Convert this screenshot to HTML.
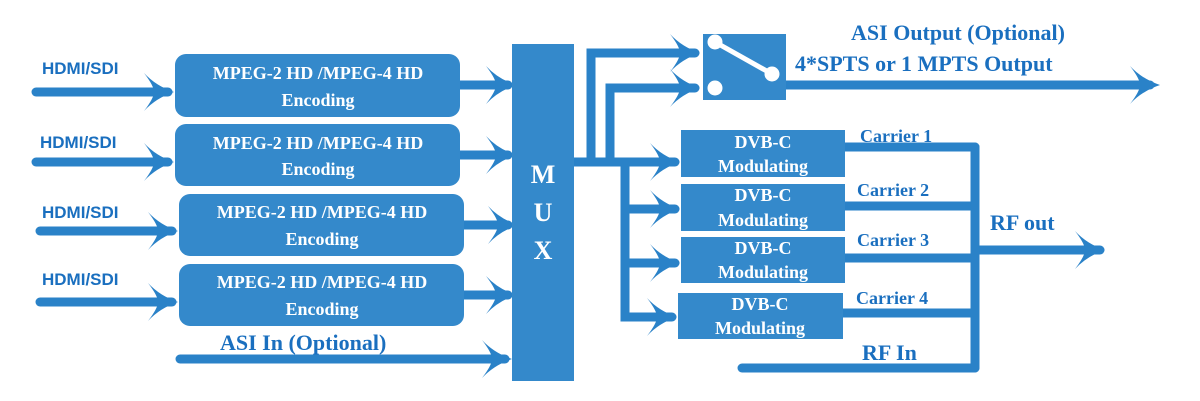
<!DOCTYPE html>
<html><head><meta charset="utf-8"><style>
html,body{margin:0;padding:0;background:#fff;}
svg{display:block;}
.w{font-family:"Liberation Serif",serif;font-weight:bold;fill:#fff;font-size:18px;text-anchor:middle;}
.b{font-family:"Liberation Serif",serif;font-weight:bold;fill:#1a6fbf;}
.s{font-family:"Liberation Sans",sans-serif;font-weight:bold;fill:#1a6fbf;font-size:17px;}
</style></head><body>
<svg width="1200" height="401" viewBox="0 0 1200 401" xmlns="http://www.w3.org/2000/svg">
<defs>
<path id="ah" d="M0,0 Q-18,-6 -30,-19 Q-20,-6 -20,0 Q-20,6 -30,19 Q-18,6 0,0Z" fill="#2a82c8"/>
</defs>
<g stroke="#2a82c8" stroke-width="9" stroke-linecap="round" fill="none">
<!-- inputs -->
<line x1="36" y1="92" x2="168" y2="92"/>
<line x1="36" y1="162" x2="168" y2="162"/>
<line x1="40" y1="231" x2="172" y2="231"/>
<line x1="40" y1="302" x2="172" y2="302"/>
<!-- encoder outputs -->
<line x1="455" y1="85" x2="508" y2="85"/>
<line x1="458" y1="155" x2="508" y2="155"/>
<line x1="455" y1="225" x2="508" y2="225"/>
<line x1="462" y1="295" x2="508" y2="295"/>
<line x1="180" y1="359" x2="505" y2="359"/>
<!-- mux out -->
<line x1="574" y1="162" x2="675" y2="162"/>
<polyline points="591,162 591,53 695,53"/>
<polyline points="610,162 610,88 695,88"/>
<polyline points="625,162 625,317 672,317"/>
<line x1="625" y1="209" x2="675" y2="209"/>
<line x1="625" y1="263" x2="675" y2="263"/>
<line x1="786" y1="85" x2="1150" y2="85"/>
<!-- carriers -->
<line x1="845" y1="147" x2="975" y2="147"/>
<line x1="845" y1="206" x2="975" y2="206"/>
<line x1="845" y1="258" x2="975" y2="258"/>
<line x1="843" y1="313" x2="975" y2="313"/>
<line x1="975" y1="147" x2="975" y2="368"/>
<line x1="742" y1="368" x2="975" y2="368"/>
<line x1="975" y1="250" x2="1100" y2="250"/>
</g>
<!-- arrowheads -->
<use href="#ah" transform="translate(174,92)"/>
<use href="#ah" transform="translate(174,162)"/>
<use href="#ah" transform="translate(178,231)"/>
<use href="#ah" transform="translate(178,302)"/>
<use href="#ah" transform="translate(516,85)"/>
<use href="#ah" transform="translate(516,155)"/>
<use href="#ah" transform="translate(518,225)"/>
<use href="#ah" transform="translate(516,295)"/>
<use href="#ah" transform="translate(512,359)"/>
<use href="#ah" transform="translate(700,53)"/>
<use href="#ah" transform="translate(700,88)"/>
<use href="#ah" transform="translate(680,162)"/>
<use href="#ah" transform="translate(680,209)"/>
<use href="#ah" transform="translate(680,263)"/>
<use href="#ah" transform="translate(677,317)"/>
<use href="#ah" transform="translate(1160,85)"/>
<use href="#ah" transform="translate(1105,250)"/>
<!-- encoders -->
<g fill="#3489cb">
<rect x="175" y="54" width="285" height="63" rx="11"/>
<rect x="175" y="124" width="285" height="62" rx="11"/>
<rect x="179" y="194" width="285" height="62" rx="11"/>
<rect x="179" y="264" width="285" height="62" rx="11"/>
<rect x="512" y="44" width="62" height="337"/>
<rect x="703" y="34" width="83" height="66"/>
<rect x="681" y="130" width="164" height="47"/>
<rect x="681" y="184" width="164" height="47"/>
<rect x="681" y="237" width="164" height="46"/>
<rect x="678" y="293" width="165" height="46"/>
</g>
<text class="w" x="318" y="79">MPEG-2 HD /MPEG-4 HD</text>
<text class="w" x="318" y="106">Encoding</text>
<text class="w" x="318" y="149">MPEG-2 HD /MPEG-4 HD</text>
<text class="w" x="318" y="175">Encoding</text>
<text class="w" x="322" y="218">MPEG-2 HD /MPEG-4 HD</text>
<text class="w" x="322" y="245">Encoding</text>
<text class="w" x="322" y="288">MPEG-2 HD /MPEG-4 HD</text>
<text class="w" x="322" y="315">Encoding</text>
<text class="w" x="543" y="183" style="font-size:26px">M</text>
<text class="w" x="543" y="221" style="font-size:26px">U</text>
<text class="w" x="543" y="259" style="font-size:26px">X</text>
<text class="w" x="763" y="148">DVB-C</text>
<text class="w" x="763" y="172">Modulating</text>
<text class="w" x="763" y="201">DVB-C</text>
<text class="w" x="763" y="226">Modulating</text>
<text class="w" x="763" y="254">DVB-C</text>
<text class="w" x="763" y="278">Modulating</text>
<text class="w" x="760" y="310">DVB-C</text>
<text class="w" x="760" y="334">Modulating</text>
<!-- switch -->
<g fill="#fff" stroke="#fff" stroke-width="5" stroke-linecap="round">
<line x1="715" y1="42" x2="772" y2="74"/>
<circle cx="715" cy="42" r="5"/>
<circle cx="772" cy="74" r="5"/>
<circle cx="715" cy="88" r="5"/>
</g>
<!-- labels -->
<text class="s" x="42" y="74">HDMI/SDI</text>
<text class="s" x="40" y="148">HDMI/SDI</text>
<text class="s" x="42" y="218">HDMI/SDI</text>
<text class="s" x="42" y="285">HDMI/SDI</text>
<text class="b" x="220" y="350" style="font-size:22px">ASI In (Optional)</text>
<text class="b" x="958" y="40" style="font-size:22px" text-anchor="middle">ASI Output (Optional)</text>
<text class="b" x="795" y="71" style="font-size:22px">4*SPTS or 1 MPTS  Output</text>
<text class="b" x="860" y="142" style="font-size:18px">Carrier 1</text>
<text class="b" x="857" y="196" style="font-size:18px">Carrier 2</text>
<text class="b" x="857" y="246" style="font-size:18px">Carrier 3</text>
<text class="b" x="856" y="304" style="font-size:18px">Carrier 4</text>
<text class="b" x="990" y="230" style="font-size:22px">RF out</text>
<text class="b" x="862" y="360" style="font-size:22px">RF In</text>
</svg>
</body></html>
